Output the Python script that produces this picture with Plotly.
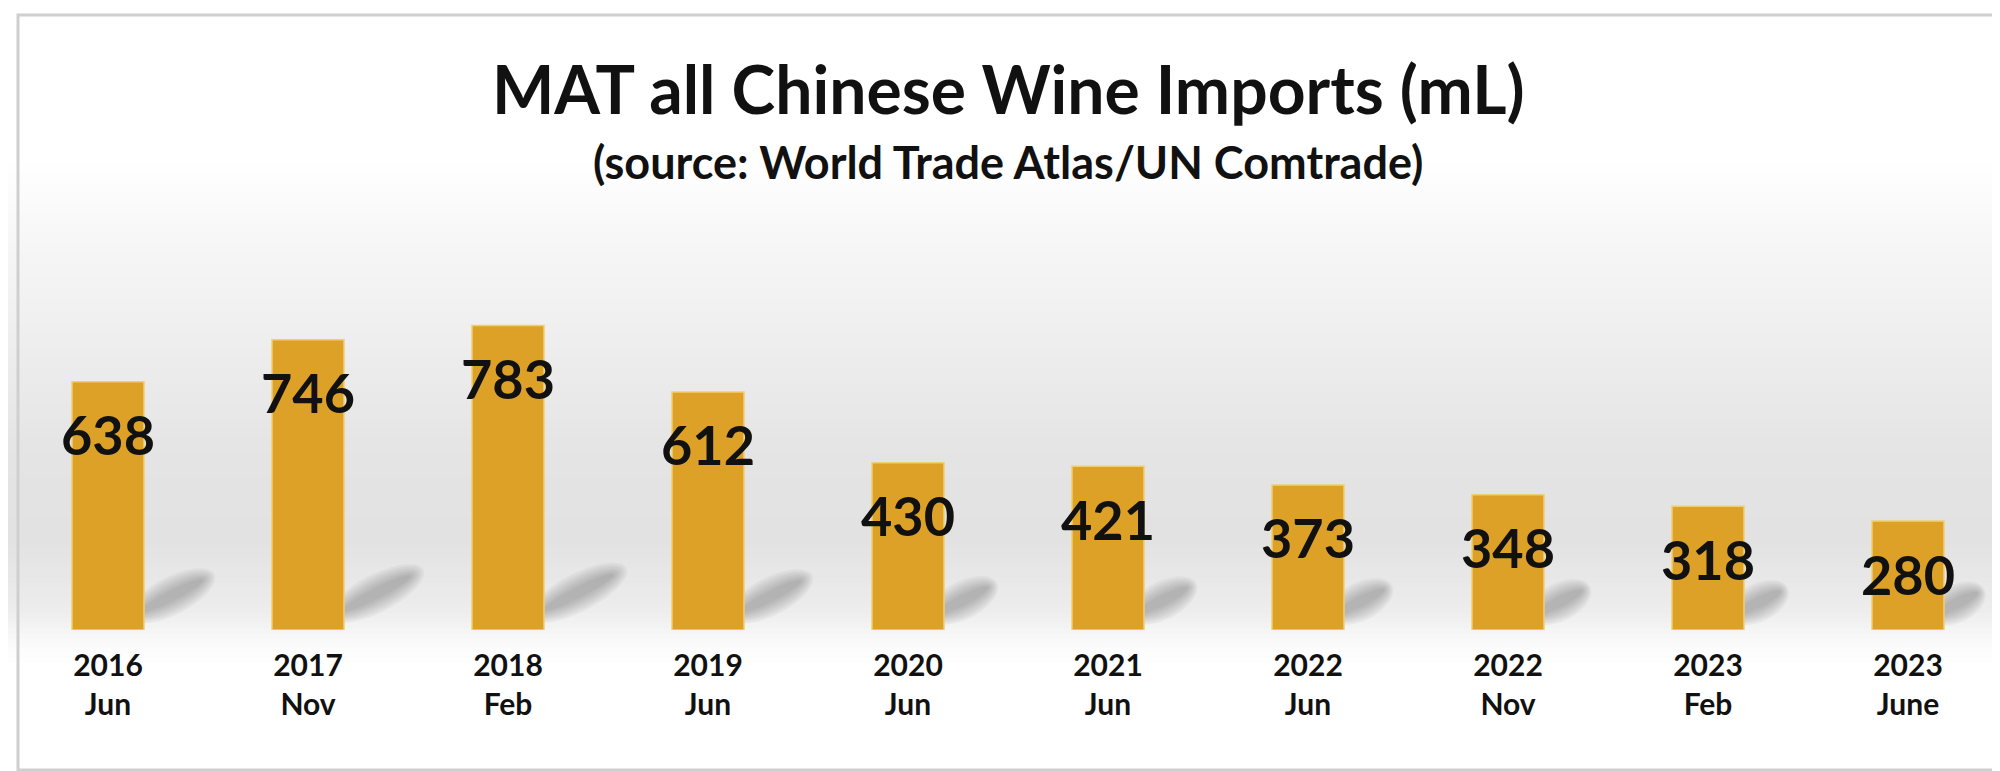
import math
import plotly.graph_objects as go

# ---- data ----
years = ["2016", "2017", "2018", "2019", "2020", "2021", "2022", "2022", "2023", "2023"]
months = ["Jun", "Nov", "Feb", "Jun", "Jun", "Jun", "Jun", "Nov", "Feb", "June"]
imports_ml = [638, 746, 783, 612, 430, 421, 373, 348, 318, 280]
categories = [f"{y}<br>{m}" for y, m in zip(years, months)]

title_text = "MAT all Chinese Wine Imports (mL)"
subtitle_text = "(source: World Trade Atlas/UN Comtrade)"

# ---- layout constants (pixels) ----
W, H = 2000, 771
M_T, M_B, M_L, M_R = 233, 149, 0, 0
PLOT_H = H - M_T - M_B
Y_MAX = 1000
BASE_PX = H - M_B  # y pixel of the axis zero line


def py(p):
    """pixel row -> paper y"""
    return (BASE_PX - p) / PLOT_H


FONT = "Lato"
BAR_COLOR = "#DCA126"

fig = go.Figure()
fig.add_trace(go.Bar(
    x=categories,
    y=imports_ml,
    marker=dict(color=BAR_COLOR, line=dict(color="#F0CF72", width=1.5)),
    width=0.36,
    hoverinfo="x+y",
))

shapes = []
# background vertical gradient: white -> light grey -> white
stops = [(0, 255), (150, 255), (250, 245), (450, 228), (530, 226), (600, 236),
         (632, 249), (655, 255), (H, 255)]
band = 5
p = 0
while p < H:
    mid = p + band / 2
    c = 255
    for (a, ca), (b, cb) in zip(stops[:-1], stops[1:]):
        if a <= mid <= b:
            c = ca + (cb - ca) * (mid - a) / (b - a)
            break
    c = int(round(c))
    shapes.append(dict(type="rect", xref="paper", yref="paper", layer="below",
                       x0=0, x1=1, y0=py(p + band + 0.5), y1=py(p),
                       fillcolor=f"rgb({c},{c},{c})", line=dict(width=0)))
    p += band


def ellipse_path(cx, cy, a, b, ang, n=36):
    pts = []
    ca, sa = math.cos(ang), math.sin(ang)
    for k in range(n):
        t = 2 * math.pi * k / n
        ex, ey = a * math.cos(t), b * math.sin(t)
        pts.append((cx + ex * ca - ey * sa, cy + ex * sa + ey * ca))
    return "M " + " L ".join(f"{x:.1f},{y:.1f}" for x, y in pts) + " Z"


# soft shadows to the right of each bar base
ang = math.radians(27)
for i, v in enumerate(imports_ml):
    L = 20 + 0.094 * v
    cx = 28 + 0.5 * L * math.cos(ang)
    cy = 16 + 0.5 * L * math.sin(ang)
    for k in [1.0, 0.88, 0.76, 0.64, 0.52, 0.4, 0.28]:
        shapes.append(dict(type="path", xref="x", yref="y", layer="below",
                           xsizemode="pixel", ysizemode="pixel",
                           xanchor=i, yanchor=0,
                           path=ellipse_path(cx, cy, 0.5 * L * (0.55 + 0.45 * k) + 8, 19 * k, ang),
                           fillcolor="rgb(80,80,80)", line=dict(width=0),
                           opacity=0.055))

# outer frame
shapes.append(dict(type="rect", xref="paper", yref="paper", layer="above",
                   x0=10 / W, x1=1995 / W, y0=py(762), y1=py(7),
                   fillcolor="rgba(0,0,0,0)", line=dict(color="#CFCFCF", width=3)))

annotations = [
    dict(text=title_text, xref="paper", yref="paper", x=0.5, y=py(81),
         xanchor="center", yanchor="middle", showarrow=False,
         font=dict(family=FONT, size=66, color="#111111", weight="bold")),
    dict(text=subtitle_text, xref="paper", yref="paper", x=0.5, y=py(154),
         xanchor="center", yanchor="middle", showarrow=False,
         font=dict(family=FONT, size=45, color="#111111", weight="bold")),
]
for c, v in zip(categories, imports_ml):
    annotations.append(dict(text=str(v), x=c, y=v, xref="x", yref="y",
                            yshift=-53, xanchor="center", yanchor="middle",
                            showarrow=False,
                            font=dict(family=FONT, size=54, color="#111111", weight="bold")))

fig.update_layout(
    width=W, height=H,
    margin=dict(t=M_T, b=M_B, l=M_L, r=M_R, pad=0),
    paper_bgcolor="white",
    plot_bgcolor="rgba(0,0,0,0)",
    showlegend=False,
    shapes=shapes,
    annotations=annotations,
    bargap=0.64,
    xaxis=dict(showgrid=False, showline=False, zeroline=False, ticks="",
               tickfont=dict(family=FONT, size=30, color="#111111", weight="bold"),
               ticklabelstandoff=15, fixedrange=True),
    yaxis=dict(range=[0, Y_MAX], visible=False, showgrid=False, zeroline=False,
               fixedrange=True),
)

fig.write_html("out.html")
